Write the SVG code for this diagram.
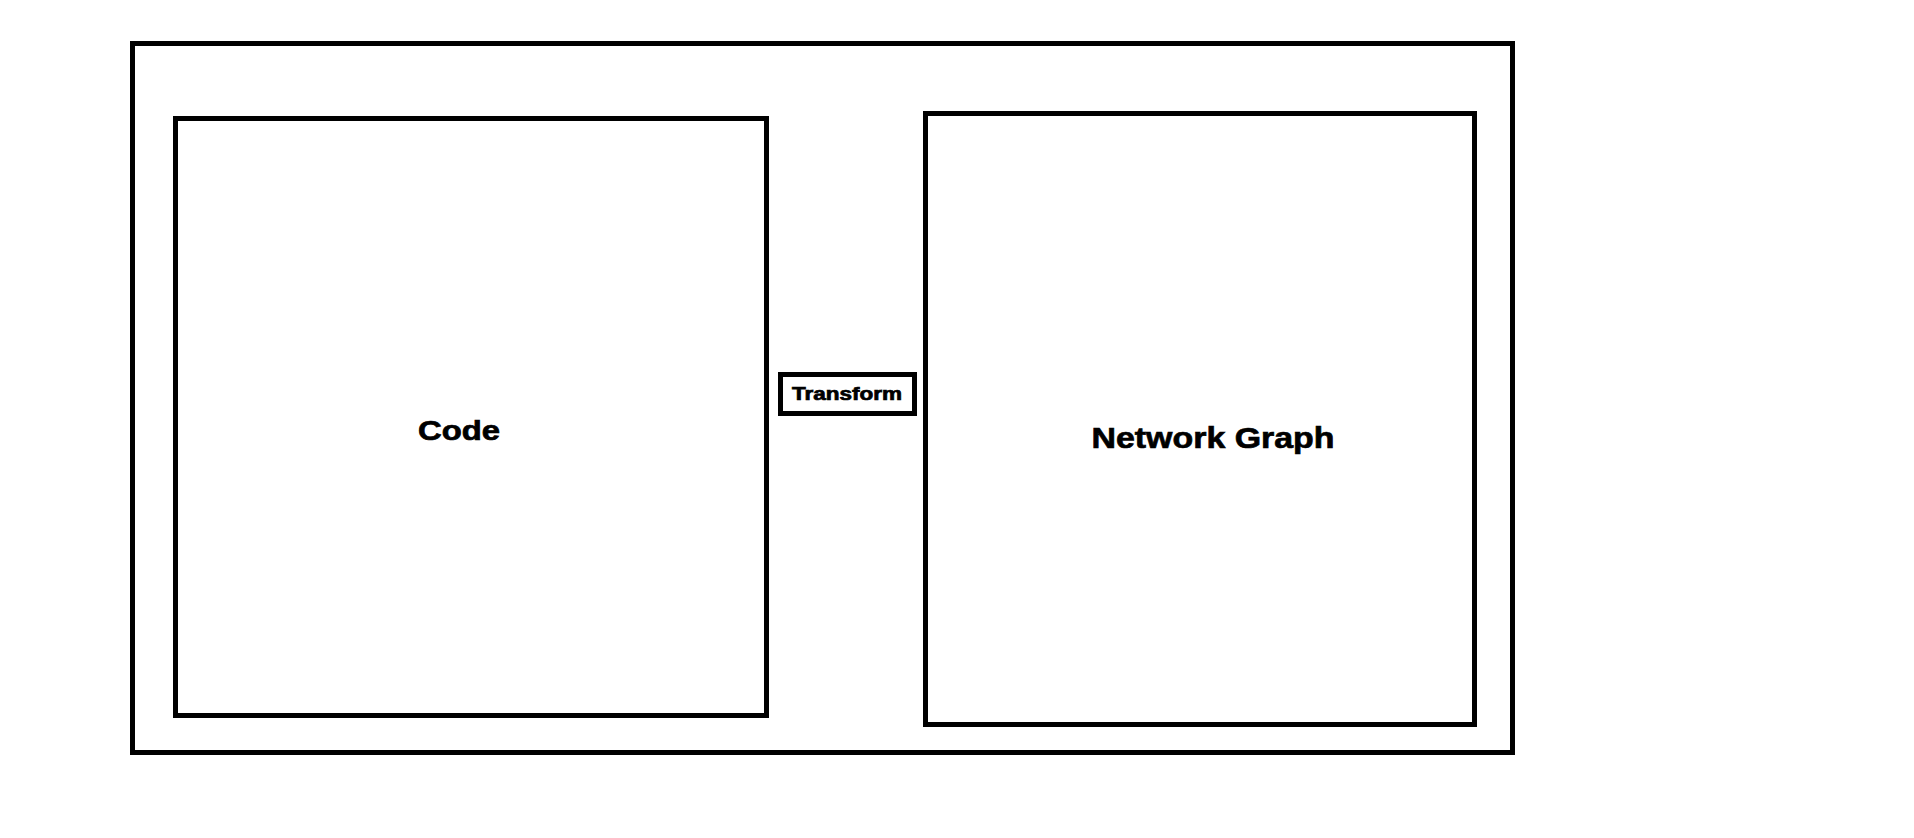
<svg xmlns="http://www.w3.org/2000/svg" width="1914" height="838" viewBox="0 0 1914 838">
<style>
.box{fill:none;stroke:#000;stroke-width:5}
.lbl{font-family:"Liberation Sans",Arial,sans-serif;font-weight:bold;fill:#000;stroke:#000;stroke-width:0.7;text-anchor:middle}
</style>
<rect width="1914" height="838" fill="#fff"/>
<g id="container"><rect class="box" x="132.5" y="43.5" width="1380" height="709"/></g>
<g id="code"><rect class="box" x="175.5" y="118.5" width="591" height="597"/>
<text class="lbl" x="459" y="440" font-size="27" textLength="82" lengthAdjust="spacingAndGlyphs">Code</text></g>
<g id="network-graph"><rect class="box" x="925.5" y="113.5" width="549" height="611"/>
<text class="lbl" x="1213" y="448" font-size="30" textLength="243" lengthAdjust="spacingAndGlyphs">Network Graph</text></g>
<g id="transform"><rect class="box" x="780.5" y="374.5" width="134" height="39"/>
<text class="lbl" x="847" y="400" font-size="18" textLength="110" lengthAdjust="spacingAndGlyphs">Transform</text></g>
<g id="connectors"></g>
</svg>
